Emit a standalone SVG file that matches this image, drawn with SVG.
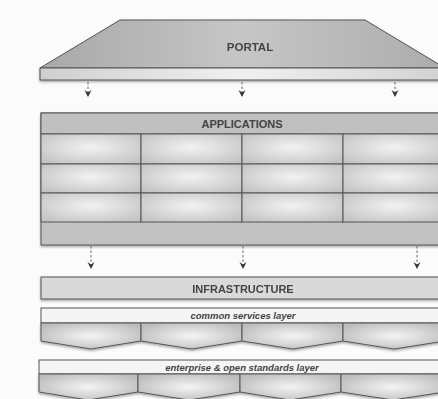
<svg xmlns="http://www.w3.org/2000/svg" width="438" height="399" viewBox="0 0 438 399">
<defs>
<linearGradient id="gPortal" x1="0" y1="0" x2="1" y2="0">
<stop offset="0" stop-color="#a8a8a8"/><stop offset="0.5" stop-color="#c6c6c6"/><stop offset="1" stop-color="#acacac"/>
</linearGradient>
<linearGradient id="gBar" x1="0" y1="0" x2="1" y2="0">
<stop offset="0" stop-color="#cfcfcf"/><stop offset="0.5" stop-color="#f0f0f0"/><stop offset="1" stop-color="#d2d2d2"/>
</linearGradient>
<radialGradient id="gCell" cx="0.5" cy="0.45" r="0.65">
<stop offset="0" stop-color="#f2f2f2"/><stop offset="1" stop-color="#c4c4c4"/>
</radialGradient>
<radialGradient id="gPent" cx="0.5" cy="0.5" r="0.6">
<stop offset="0" stop-color="#f4f4f4"/><stop offset="1" stop-color="#bcbcbc"/>
</radialGradient>
<filter id="sh" x="-5%" y="-10%" width="110%" height="130%">
<feDropShadow dx="0" dy="1.5" stdDeviation="1.2" flood-color="#000" flood-opacity="0.35"/>
</filter>
<marker id="arr" markerWidth="8" markerHeight="8" refX="6" refY="4" orient="auto" markerUnits="userSpaceOnUse" viewBox="0 0 8 8">
<path d="M0,0.5 L7,4 L0,7.5 L2.5,4 Z" fill="#333"/>
</marker>
<style>
.ln{stroke:#555;stroke-width:1;}
.t{font-family:"Liberation Sans",Arial,sans-serif;font-weight:bold;fill:#444;text-anchor:middle;}
.ti{font-family:"Liberation Sans",Arial,sans-serif;font-weight:bold;font-style:italic;fill:#444;text-anchor:middle;font-size:9.5px;}
.c{stroke:#666;stroke-width:1;stroke-dasharray:2.5,2;fill:none;}
</style>
</defs>
<rect width="438" height="399" fill="#fbfbfb"/>

<g id="portal" filter="url(#sh)">
<polygon points="120,20 365,20 445,68 40,68" fill="url(#gPortal)" class="ln"/>
<rect x="40" y="68" width="405" height="12" fill="url(#gBar)" class="ln"/>
<text class="t" x="250" y="51" font-size="11.5">PORTAL</text>
</g>

<g id="applications">
<rect x="41" y="113" width="404" height="132" fill="#c2c2c2" class="ln" filter="url(#sh)"/>
<rect x="41" y="113" width="404" height="21" fill="#c0c0c0" class="ln"/>
<text class="t" x="242" y="128" font-size="11">APPLICATIONS</text>
<g fill="url(#gCell)" class="ln">
<rect x="41" y="134" width="100" height="30"/><rect x="141" y="134" width="101" height="30"/><rect x="242" y="134" width="101" height="30"/><rect x="343" y="134" width="102" height="30"/>
<rect x="41" y="164" width="100" height="29"/><rect x="141" y="164" width="101" height="29"/><rect x="242" y="164" width="101" height="29"/><rect x="343" y="164" width="102" height="29"/>
<rect x="41" y="193" width="100" height="29"/><rect x="141" y="193" width="101" height="29"/><rect x="242" y="193" width="101" height="29"/><rect x="343" y="193" width="102" height="29"/>
</g>
</g>

<g id="infrastructure" filter="url(#sh)">
<rect x="41" y="277" width="404" height="22" fill="#d9d9d9" class="ln"/>
<text class="t" x="243" y="293" font-size="11">INFRASTRUCTURE</text>
</g>

<g id="common-services">
<rect x="41" y="308" width="404" height="15" fill="#f5f5f5" class="ln"/>
<text class="ti" x="243" y="319">common services layer</text>
<g fill="url(#gPent)" class="ln" filter="url(#sh)">
<polygon points="41,323 141,323 141,341 91,349 41,341"/>
<polygon points="141,323 242,323 242,341 192,349 141,341"/>
<polygon points="242,323 343,323 343,341 293,349 242,341"/>
<polygon points="343,323 445,323 445,341 394,349 343,341"/>
</g>
</g>

<g id="enterprise-standards">
<rect x="39" y="360" width="406" height="14" fill="#f5f5f5" class="ln"/>
<text class="ti" x="242" y="370.5">enterprise &amp; open standards layer</text>
<g fill="url(#gPent)" class="ln" filter="url(#sh)">
<polygon points="39,374 138,374 138,392 88,400 39,392"/>
<polygon points="138,374 240,374 240,392 189,400 138,392"/>
<polygon points="240,374 341,374 341,392 290,400 240,392"/>
<polygon points="341,374 445,374 445,392 393,400 341,392"/>
</g>
</g>

<g id="connectors">
<line class="c" x1="88" y1="82" x2="88" y2="96" marker-end="url(#arr)"/>
<line class="c" x1="242" y1="82" x2="242" y2="96" marker-end="url(#arr)"/>
<line class="c" x1="395" y1="82" x2="395" y2="96" marker-end="url(#arr)"/>
<line class="c" x1="91" y1="246" x2="91" y2="268" marker-end="url(#arr)"/>
<line class="c" x1="243" y1="246" x2="243" y2="268" marker-end="url(#arr)"/>
<line class="c" x1="417" y1="246" x2="417" y2="268" marker-end="url(#arr)"/>
</g>
</svg>
